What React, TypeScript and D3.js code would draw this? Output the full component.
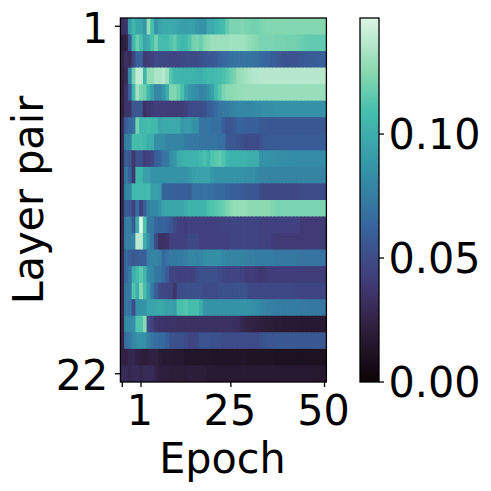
import React from "react";
import * as d3 from "d3";

// Colormap stops (mako), colour bar limits
const makoStops = [
  [0, "#0B0405"], [0.143, "#2e1e3b"], [0.25, "#3E356B"], [0.286, "#413d7b"], [0.429, "#37659e"],
  [0.5, "#357BA2"], [0.571, "#348fa7"], [0.714, "#40b7ad"], [0.75, "#49C1AD"], [0.857, "#8bdab2"], [1, "#DEF5E5"],
] as [number, string][];
const vMax = 0.1468;
const barTicks = [0, 0.05, 0.1];
const yTickLabels = [[0, "1"], [21, "22"]] as [number, string][];
// tick position in column units, label
const xTicks = [[0.5, null], [5.5, "1"], [29.5, "25"], [54.5, "50"]] as [number, string | null][];

// values in thousandths; one list per layer pair, 55 columns each
const row01 = [34,36,92,105,96,96,88,128,108,86,95,98,98,98,97,94,92,91,93,92,88,86,86,98,98,102,106,108,116,122,122,122,123,122,121,120,120,122,123,124,124,124,124,124,124,124,124,124,124,124,124,124,124,124,124];
const row02 = [22,24,58,105,118,110,95,100,110,120,108,107,107,112,116,108,105,106,112,120,122,118,124,127,130,130,130,130,130,131,131,131,131,130,127,126,124,122,122,122,122,121,121,121,120,120,120,119,118,117,116,116,116,116,116];
const row03 = [26,34,30,45,62,62,40,42,44,50,48,48,48,47,46,47,48,50,50,50,50,52,54,56,56,58,62,64,66,68,70,70,70,70,70,69,68,66,64,63,60,58,56,54,54,54,54,55,56,58,58,59,60,60,60];
const row04 = [24,30,80,120,140,140,105,128,128,134,134,137,130,112,105,104,103,103,103,102,101,100,104,106,106,107,108,110,114,118,122,128,130,132,134,136,136,137,137,137,137,137,137,137,137,137,137,137,137,137,137,137,137,137,137];
const row05 = [24,36,60,105,132,122,118,105,92,80,80,88,100,123,123,118,110,95,88,85,82,78,80,86,92,106,114,122,125,126,127,128,128,129,129,129,129,129,129,129,129,129,129,129,129,129,129,129,129,129,129,129,129,129,129];
const row06 = [24,36,36,55,55,56,34,38,40,42,42,42,42,41,41,41,41,44,50,50,50,50,52,58,62,66,70,72,74,76,78,80,80,80,80,81,82,83,84,84,84,85,85,85,85,85,85,85,85,85,85,85,85,85,85];
const row07 = [30,60,65,68,120,105,106,108,106,106,95,98,98,98,98,98,88,90,90,86,84,70,70,70,68,68,68,60,55,55,58,62,62,60,60,60,60,57,57,56,56,56,56,56,56,56,56,56,56,56,56,56,56,56,56];
const row08 = [30,76,76,108,108,108,106,100,100,84,84,82,78,78,78,78,78,74,72,72,72,70,70,70,70,70,68,68,56,56,56,54,52,50,50,50,50,54,56,57,58,58,58,58,58,58,58,58,58,58,58,58,58,58,58];
const row09 = [28,60,55,38,52,52,42,44,48,60,62,70,72,84,88,98,100,102,102,102,102,106,110,104,112,114,116,112,105,102,102,102,102,102,100,100,100,86,86,85,85,84,84,84,84,83,83,83,82,82,82,82,82,82,82];
const row10 = [28,72,62,38,105,105,92,92,86,86,86,86,86,86,86,86,86,86,88,92,94,94,94,94,88,86,86,86,86,86,86,86,86,84,84,84,80,78,78,78,78,78,78,78,78,78,78,78,78,78,78,78,78,78,78];
const row11 = [28,80,80,105,106,106,106,108,92,92,90,62,62,62,60,60,60,60,58,68,68,68,70,68,68,66,66,66,62,60,60,60,58,56,56,56,56,50,48,48,48,48,48,48,48,48,48,48,50,50,50,50,50,50,50];
const row12 = [28,58,56,44,66,44,60,76,80,80,86,94,96,96,96,96,96,100,104,102,102,102,104,110,112,114,116,118,122,126,128,128,128,128,126,126,126,126,126,126,124,122,122,122,122,122,122,122,122,122,122,122,122,122,122];
const row13 = [28,75,75,56,100,147,110,72,72,64,62,62,60,56,50,44,43,42,44,44,44,44,44,44,44,44,45,45,46,46,46,46,46,46,46,46,46,44,44,44,44,44,44,44,44,44,44,44,40,40,40,40,40,40,40];
const row14 = [28,76,76,78,138,138,100,84,72,50,34,34,36,44,44,44,44,44,48,48,48,44,44,44,44,44,44,44,43,46,46,46,46,46,46,46,46,44,44,44,42,41,40,40,40,40,40,40,40,40,40,40,40,40,40];
const row15 = [28,66,60,56,58,60,60,76,78,78,76,64,70,72,72,74,74,76,78,80,78,80,82,84,84,84,84,80,78,78,78,78,78,76,76,76,74,74,74,74,74,72,72,72,72,72,72,71,70,70,70,70,70,70,70];
const row16 = [28,66,72,100,108,115,105,82,80,72,70,66,58,46,46,44,44,44,44,44,50,52,52,52,52,52,50,48,46,46,46,46,44,42,42,42,40,38,40,42,42,42,42,42,42,42,42,42,42,42,42,42,42,42,42];
const row17 = [28,72,72,112,100,126,108,90,72,60,50,48,46,46,36,50,52,52,52,52,52,52,50,50,50,50,52,52,52,52,53,53,53,53,48,48,48,48,48,48,48,48,48,48,48,48,47,46,46,46,46,46,46,46,46];
const row18 = [28,72,70,50,84,86,86,94,95,96,98,96,92,92,90,110,110,112,108,108,108,100,88,86,86,86,86,86,86,86,86,86,86,86,86,84,82,80,78,76,76,75,75,74,74,74,74,74,73,73,72,72,72,72,72];
const row19 = [26,82,82,84,112,112,125,50,44,38,36,36,35,35,35,34,34,34,34,34,34,34,34,34,34,34,34,34,34,34,33,32,28,26,25,24,23,22,21,20,20,19,19,18,18,18,18,18,17,17,17,17,17,17,17];
const row20 = [26,68,72,80,84,86,84,76,70,68,66,66,60,54,52,52,52,50,46,46,48,54,54,54,52,52,52,50,50,50,50,50,50,50,50,50,50,52,54,55,55,56,56,56,56,56,56,56,56,56,56,56,56,56,56];
const row21 = [24,24,28,28,24,22,20,22,24,24,20,18,18,18,17,16,16,14,14,14,14,14,14,14,13,13,13,13,13,13,13,13,13,13,12,12,12,12,12,12,12,11,11,11,11,11,11,11,11,11,11,11,11,11,11];
const row22 = [30,30,28,30,30,28,30,30,30,26,22,22,22,20,20,20,20,20,22,20,20,20,20,18,18,18,18,18,18,18,18,18,18,18,18,18,18,18,18,18,18,18,18,17,17,17,17,17,17,17,17,16,16,16,16];
const rows = [row01,row02,row03,row04,row05,row06,row07,row08,row09,row10,row11,row12,row13,row14,row15,row16,row17,row18,row19,row20,row21,row22];

const frame = { left: 120.4, right: 326.4, top: 18, bottom: 382 };
const bar = { left: 360, right: 379, top: 18, bottom: 382 };
const fontFamily = "'DejaVu Sans'";
const fontSize = 43.5;
const alongText = 0.95;

const mako = d3.scaleLinear<string>()
  .domain(makoStops.map((s) => s[0]))
  .range(makoStops.map((s) => s[1]))
  .interpolate(d3.interpolateRgb);

function Label({ x, y, rotate = 0, anchor = "start", children }: any) {
  return (
    <text transform={`translate(${x},${y}) rotate(${rotate}) scale(${alongText},1)`}
      textAnchor={anchor} fontSize={fontSize}>{children}</text>
  );
}

export default function App() {
  const nCols = rows[0].length;
  const x = d3.scaleLinear().domain([0, nCols]).range([frame.left, frame.right]);
  const y = d3.scaleLinear().domain([0, rows.length]).range([frame.top, frame.bottom]);
  const cb = d3.scaleLinear().domain([0, vMax]).range([bar.bottom, bar.top]);
  const gradStops = d3.range(0, 1.0001, 0.02);
  return (
    <svg width={491} height={491} viewBox="0 0 491 491"
      style={{ position: "absolute", left: 0, top: 0, display: "block", background: "#fff" }}
      fontFamily={fontFamily}>
      <defs>
        <linearGradient id="cbar" x1="0" y1="1" x2="0" y2="0">
          {gradStops.map((t) => <stop key={t} offset={t} stopColor={mako(t)} />)}
        </linearGradient>
        <clipPath id="plotArea">
          <rect x={frame.left} y={frame.top} width={frame.right - frame.left} height={frame.bottom - frame.top} />
        </clipPath>
      </defs>
      <g clipPath="url(#plotArea)">
        {rows.map((r, i) => r.map((v, j) => (
          <rect key={`${i}-${j}`} x={x(j)} y={y(i)} width={x(j + 1) - x(j) + 1.5} height={y(i + 1) - y(i) + 1.5}
            fill={mako((v / 1000) / vMax)} />
        )))}
      </g>
      <rect x={frame.left} y={frame.top} width={frame.right - frame.left} height={frame.bottom - frame.top}
        fill="none" stroke="#000" strokeWidth={1.3} />
      {yTickLabels.map(([i, label]) => (
        <g key={label}>
          <line x1={frame.left - 5.5} x2={frame.left} y1={y(i + 0.5)} y2={y(i + 0.5)} stroke="#000" strokeWidth={1.3} />
          <Label x={frame.left - 12} y={y(i + 0.5) + 16.5} anchor="end">{label}</Label>
        </g>
      ))}
      {xTicks.map(([c, label]) => (
        <g key={c}>
          <line x1={x(c)} x2={x(c)} y1={frame.bottom} y2={frame.bottom + 5} stroke="#000" strokeWidth={1.3} />
          {label && <Label x={x(c) - 1} y={425} anchor="middle">{label}</Label>}
        </g>
      ))}
      <Label x={222.5} y={473} anchor="middle">Epoch</Label>
      <Label x={42.5} y={200} rotate={-90} anchor="middle">Layer pair</Label>

      <rect x={bar.left} y={bar.top} width={bar.right - bar.left} height={bar.bottom - bar.top}
        fill="url(#cbar)" stroke="#000" strokeWidth={1.3} />
      {barTicks.map((t) => (
        <g key={t}>
          <line x1={bar.right} x2={bar.right + 5} y1={cb(t)} y2={cb(t)} stroke="#000" strokeWidth={1.3} />
          <Label x={bar.right + 9.5} y={cb(t) + 15}>{t.toFixed(2)}</Label>
        </g>
      ))}
    </svg>
  );
}
